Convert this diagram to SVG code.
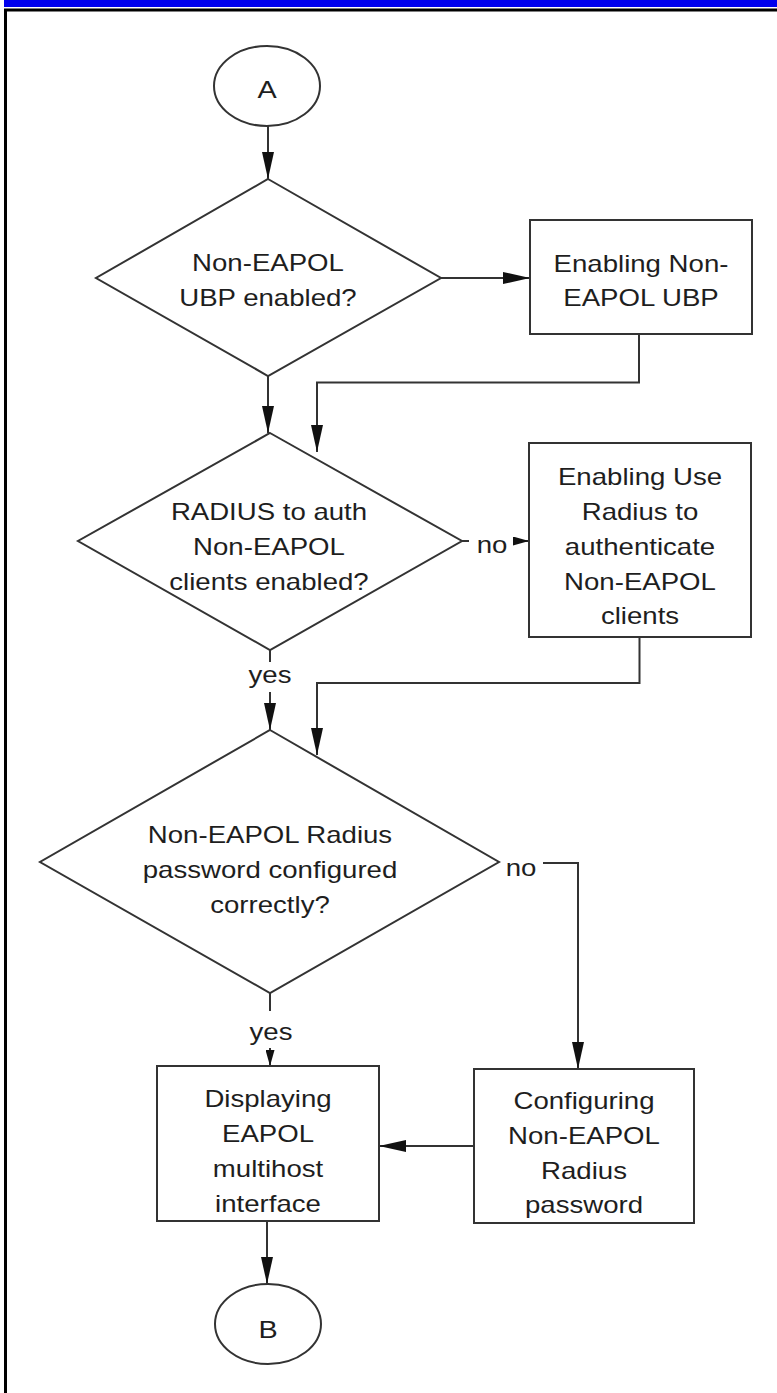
<svg xmlns="http://www.w3.org/2000/svg" width="777" height="1393" viewBox="0 0 777 1393">
<defs>
<style>
.s{fill:#fff;stroke:#333;stroke-width:2}
.c{fill:none;stroke:#333;stroke-width:2}
.t{font-family:"Liberation Sans",Arial,sans-serif;font-size:23px;fill:#1e1e1e;text-anchor:middle}
</style>
<marker id="ah" markerWidth="27" markerHeight="12" refX="27" refY="6" orient="auto" markerUnits="userSpaceOnUse"><path d="M0,0 L27,6 L0,12 Z" fill="#111"/></marker>
<marker id="as" markerWidth="16" markerHeight="9" refX="16" refY="4.5" orient="auto" markerUnits="userSpaceOnUse"><path d="M0,0 L16,4.5 L0,9 Z" fill="#111"/></marker>
</defs>
<rect x="0" y="0" width="777" height="1393" fill="#fff"/>
<rect x="4" y="0" width="773" height="7" fill="#0000ee"/>
<path d="M5.5,1393 V10 H777" fill="none" stroke="#000" stroke-width="3"/>

<g id="connectors">
<path class="c" d="M268,126 V179" marker-end="url(#ah)"/>
<path class="c" d="M441,278 H530" marker-end="url(#ah)"/>
<path class="c" d="M639,334 V382.5 H317 V452" marker-end="url(#ah)"/>
<path class="c" d="M268,376 V433" marker-end="url(#ah)"/>
<path class="c" d="M462,541 H469"/>
<path class="c" d="M513,541 H529" marker-end="url(#as)"/>
<path class="c" d="M639.5,637 V683 H317 V755" marker-end="url(#ah)"/>
<path class="c" d="M270,650 V662"/>
<path class="c" d="M270,692 V730" marker-end="url(#ah)"/>
<path class="c" d="M543,863 H578 V1069" marker-end="url(#ah)"/>
<path class="c" d="M270,993 V1011"/>
<path class="c" d="M270,1048 V1066" marker-end="url(#as)"/>
<path class="c" d="M474,1146 H379" marker-end="url(#ah)"/>
<path class="c" d="M267,1221 V1284" marker-end="url(#ah)"/>
<g transform="translate(492,0) scale(1.2,1)"><text class="t" x="0" y="553">no</text></g>
<g transform="translate(270,0) scale(1.2,1)"><text class="t" x="0" y="683">yes</text></g>
<g transform="translate(521,0) scale(1.2,1)"><text class="t" x="0" y="876">no</text></g>
<g transform="translate(271,0) scale(1.2,1)"><text class="t" x="0" y="1040">yes</text></g>
</g>

<g id="startA">
<ellipse class="s" cx="267" cy="86" rx="53" ry="40"/>
<g transform="translate(267,0) scale(1.2,1)"><text class="t" x="0" y="98" style="font-size:24px">A</text></g>
</g>

<g id="d1">
<polygon class="s" points="268,179 441,278 268,376 96,278"/>
<g transform="translate(268,0) scale(1.2,1)">
<text class="t" x="0" y="271">Non-EAPOL</text>
<text class="t" x="0" y="306">UBP enabled?</text>
</g>
</g>

<g id="b1">
<rect class="s" x="530" y="220" width="222" height="114"/>
<g transform="translate(641,0) scale(1.2,1)">
<text class="t" x="0" y="272">Enabling Non-</text>
<text class="t" x="0" y="306">EAPOL UBP</text>
</g>
</g>

<g id="d2">
<polygon class="s" points="270,433 462,541 270,650 78,541"/>
<g transform="translate(269,0) scale(1.2,1)">
<text class="t" x="0" y="520">RADIUS to auth</text>
<text class="t" x="0" y="555">Non-EAPOL</text>
<text class="t" x="0" y="590">clients enabled?</text>
</g>
</g>

<g id="b2">
<rect class="s" x="529" y="443" width="222" height="194"/>
<g transform="translate(640,0) scale(1.2,1)">
<text class="t" x="0" y="485">Enabling Use</text>
<text class="t" x="0" y="520">Radius to</text>
<text class="t" x="0" y="555">authenticate</text>
<text class="t" x="0" y="590">Non-EAPOL</text>
<text class="t" x="0" y="624">clients</text>
</g>
</g>

<g id="d3">
<polygon class="s" points="270,730 499,862 270,993 40,862"/>
<g transform="translate(270,0) scale(1.2,1)">
<text class="t" x="0" y="843">Non-EAPOL Radius</text>
<text class="t" x="0" y="878">password configured</text>
<text class="t" x="0" y="913">correctly?</text>
</g>
</g>

<g id="b3">
<rect class="s" x="157" y="1066" width="222" height="155"/>
<g transform="translate(268,0) scale(1.2,1)">
<text class="t" x="0" y="1107">Displaying</text>
<text class="t" x="0" y="1142">EAPOL</text>
<text class="t" x="0" y="1177">multihost</text>
<text class="t" x="0" y="1212">interface</text>
</g>
</g>

<g id="b4">
<rect class="s" x="474" y="1069" width="220" height="154"/>
<g transform="translate(584,0) scale(1.2,1)">
<text class="t" x="0" y="1109">Configuring</text>
<text class="t" x="0" y="1144">Non-EAPOL</text>
<text class="t" x="0" y="1179">Radius</text>
<text class="t" x="0" y="1213">password</text>
</g>
</g>

<g id="endB">
<ellipse class="s" cx="268" cy="1324" rx="53" ry="40"/>
<g transform="translate(268,0) scale(1.2,1)"><text class="t" x="0" y="1338" style="font-size:24px">B</text></g>
</g>
</svg>
